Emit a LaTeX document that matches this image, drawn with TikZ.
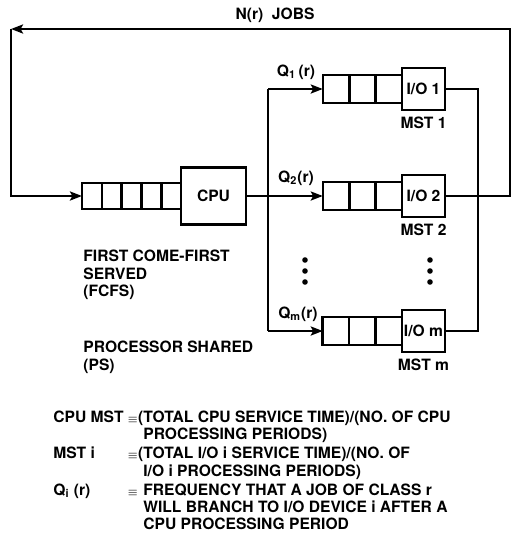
\documentclass[tikz,border=0pt]{standalone}
\usepackage{fontspec}
\setmainfont{TeX Gyre Heros}
\usetikzlibrary{positioning,arrows.meta}

\tikzset{
  slot/.style={rectangle, draw, line width=1.3pt, inner sep=0pt, outer sep=0pt, minimum width=9.9pt, minimum height=13pt},
  ioslot/.style={slot, minimum width=13.2pt, minimum height=14pt},
  server/.style={rectangle, draw, line width=1.3pt, inner sep=1pt, outer sep=0pt, minimum width=32.5pt, minimum height=28.5pt},
  device/.style={server, minimum width=21.5pt, minimum height=21pt},
  link/.style={line width=1.3pt},
  arrow/.style={link, -{Stealth[length=6pt, width=4.5pt, inset=1.2pt]}},
  txt/.style={inner sep=0pt, align=left},
}
\newcommand{\eqv}{$\scriptstyle\equiv$}

\begin{document}
\begin{tikzpicture}[x=0.5pt, y=-0.5pt, font=\fontsize{7.8}{8.6}\selectfont\bfseries]
  \useasboundingbox (0,0) rectangle (515,537);

  % CPU with its queue
  \node[server] (cpu) at (213.5,196) {CPU};
  \node[slot, left=0pt of cpu] (cq5) {};
  \node[slot, left=0pt of cq5] (cq4) {};
  \node[slot, left=0pt of cq4] (cq3) {};
  \node[slot, left=0pt of cq3] (cq2) {};
  \node[slot, left=0pt of cq2] (cq1) {};

  % I/O devices with their queues
  \node[device] (io1) at (423.5,89) {I/O 1};
  \node[ioslot, left=0pt of io1] (q13) {};
  \node[ioslot, left=0pt of q13] (q12) {};
  \node[ioslot, left=0pt of q12] (q11) {};

  \node[device] (io2) at (423.5,196) {I/O 2};
  \node[ioslot, left=0pt of io2] (q23) {};
  \node[ioslot, left=0pt of q23] (q22) {};
  \node[ioslot, left=0pt of q22] (q21) {};

  \node[device] (iom) at (423.5,331) {I/O m};
  \node[ioslot, left=0pt of iom] (qm3) {};
  \node[ioslot, left=0pt of qm3] (qm2) {};
  \node[ioslot, left=0pt of qm2] (qm1) {};

  \node[below=0pt of io1] (mst1) {MST 1};
  \node[below=0pt of io2] (mst2) {MST 2};
  \node[below=0pt of iom] (mstm) {MST m};

  % branch and return points
  \coordinate (split) at (268,196);
  \coordinate (join) at (478,196);
  \coordinate (ret) at (510,29);
  \coordinate (back) at (11,29);

  \draw[arrow] (cpu) -- (q21);
  \draw[link] (split |- q11) -- (split |- qm1);
  \draw[arrow] (split |- q11) -- (q11);
  \draw[arrow] (split |- qm1) -- (qm1);
  \draw[link] (io1) -| (join);
  \draw[link] (iom) -| (join);
  \draw[arrow] (io2) -| (ret) -- (back);
  \draw[arrow] (back) |- (cq1);

  % labels
  \node (jobs) at (275,15) {N(r)\ \ JOBS};
  \node (lq1) at (296,72) {Q\textsubscript{1}\,(r)};
  \node (lq2) at (296,178) {Q\textsubscript{2}(r)};
  \node (lqm) at (298,314) {Q\textsubscript{m}(r)};

  \foreach \y in {260,271,282} {
    \fill (305,\y) circle (1.4pt);
    \fill (430,\y) circle (1.4pt);
  }

  \node[txt, anchor=north west] (fcfs) at (83,250) {FIRST COME-FIRST\\SERVED\\(FCFS)};
  \node[txt, anchor=north west] (ps) at (83,341) {PROCESSOR SHARED\\(PS)};

  % definitions
  \node[txt, anchor=north west] (legend) at (53,410) {%
    \begin{tabular}{@{}p{37pt}@{}p{8pt}@{}l@{}}
      CPU MST & \eqv & \llap{(}TOTAL CPU SERVICE TIME)/(NO. OF CPU\\
              &      & PROCESSING PERIODS)\\[1pt]
      MST i   & \eqv & \llap{(}TOTAL I/O i SERVICE TIME)/(NO. OF\\
              &      & I/O i PROCESSING PERIODS)\\[1pt]
      Q\textsubscript{i}\ (r) & \eqv & FREQUENCY THAT A JOB OF CLASS r\\
              &      & WILL BRANCH TO I/O DEVICE i AFTER A\\
              &      & CPU PROCESSING PERIOD
    \end{tabular}};
\end{tikzpicture}
\end{document}
